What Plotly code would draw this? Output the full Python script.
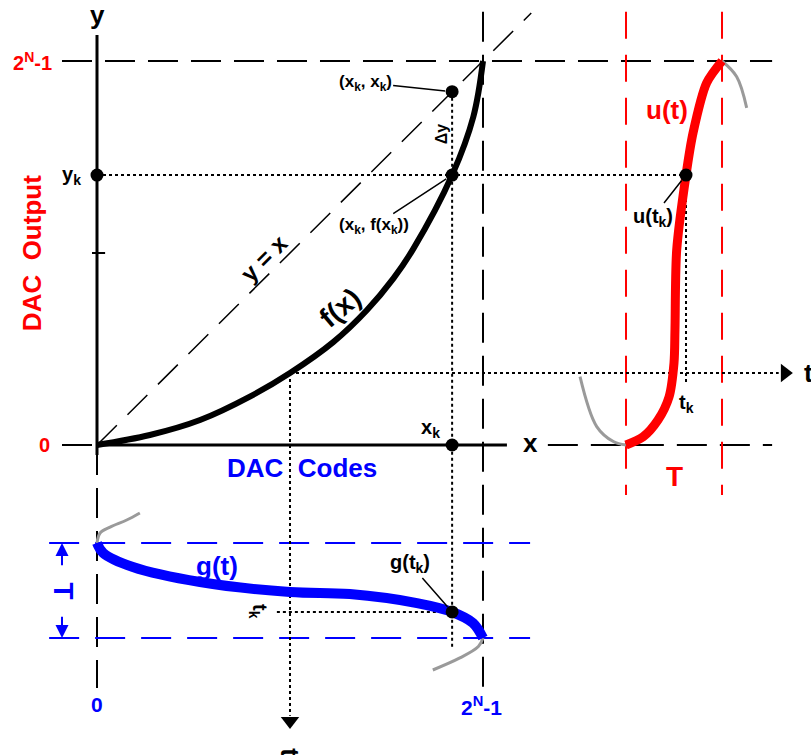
import plotly.graph_objects as go

# All quantities are normalized: DAC code and DAC output run 0 .. 1 (0 .. 2^N-1),
# time runs 0 .. 1 over one period T.

# transfer characteristic f(x)
f_code = [0.0, 0.137, 0.267, 0.396, 0.5, 0.612, 0.699, 0.768, 0.819, 0.92, 0.975, 1.0]
f_out = [0.0, 0.026, 0.065, 0.126, 0.1875, 0.268, 0.351, 0.434, 0.51, 0.703, 0.855, 1.0]

# identity reference y = x
diag = [0.0, 1.125]

# sample k
x_k = 0.92
y_k = 0.703            # f(x_k)
x_mid = 0.5            # code where the time axis of u(t) leaves f(x)
y_mid = 0.1875         # f(x_mid)

# u(t): output over one period, plus its continuation outside [0, T]
u_t = [0.0, 0.177, 0.333, 0.448, 0.5, 0.51, 0.528, 0.625, 0.698, 0.84, 1.0]
u_out = [0.0, 0.021, 0.065, 0.125, 0.214, 0.30, 0.508, 0.703, 0.8125, 0.943, 1.0]
u_pre_t = [-0.479, -0.305, -0.132, 0.0]
u_pre_out = [0.178, 0.048, 0.009, 0.0]
u_post_t = [1.0, 1.153, 1.257]
u_post_out = [1.0, 0.959, 0.878]
t_k_u = 0.625

# g(t): code over one period, plus its continuation outside [0, T]
g_t = [0.0, 0.105, 0.253, 0.411, 0.516, 0.537, 0.632, 0.726, 0.842, 1.0]
g_code = [0.0, 0.016, 0.093, 0.267, 0.5, 0.655, 0.829, 0.92, 0.974, 1.0]
g_pre_t = [0.0, -0.105, -0.168, -0.242, -0.316]
g_pre_code = [0.0, 0.008, 0.034, 0.077, 0.111]
g_post_t = [1.0, 1.09, 1.21, 1.337]
g_post_code = [1.0, 0.988, 0.940, 0.870]
t_k_g = 0.726

# ---------------------------------------------------------------- layout frame
W, H = 811, 755
X_RANGE = [-97 / 386, 714 / 386]
Y_RANGE = [-310 / 384, 445 / 384]

# time frames of the two side plots inside the shared axes
U_T0, U_T1 = 1.3705, 1.6192        # u(t): t = 0 .. T along x
G_T0, G_T1 = -0.2552, -0.5026      # g(t): t = 0 .. T downward along y


def u_x(t):
    return U_T0 + t * (U_T1 - U_T0)


def g_y(t):
    return G_T0 + t * (G_T1 - G_T0)


# extents of guide lines
X_LEFT, X_RIGHT = -0.0907, 1.749
Y_TOP, Y_BOTTOM = 1.128, -0.633

RED = "#ff0000"
BLUE = "#0000ff"
GRAY = "#9a9a9a"
FONT = "Liberation Sans, Arial, sans-serif"

DASH_K = "30px,13px"
DASH_DIAG = "28px,15px"
DASH_R = "27px,16px"
DASH_B = "30px,16px"
DOT = "3px,3px"

fig = go.Figure()


def line(xs, ys, color="black", width=2, dash=None, shape="linear", smoothing=1.0):
    fig.add_trace(go.Scatter(
        x=list(xs), y=list(ys), mode="lines",
        line=dict(color=color, width=width, dash=dash, shape=shape,
                  smoothing=smoothing if shape == "spline" else None),
        hoverinfo="skip", showlegend=False))


# dashed guides
line([X_LEFT, X_RIGHT], [1, 1], dash=DASH_K)
line([X_LEFT, 0], [0, 0], dash=DASH_K)
line([1.168, X_RIGHT], [0, 0], dash=DASH_K)
line([1, 1], [Y_TOP, Y_BOTTOM], dash=DASH_K)
line([0, 0], [0, Y_BOTTOM], dash=DASH_K)
line(diag, diag, width=1.5, dash=DASH_DIAG)

# period markers of u(t) and g(t)
for t in (0, 1):
    line([u_x(t)] * 2, [Y_TOP, -0.130], color=RED, width=2, dash=DASH_R)
    line([-0.124, 1.122], [g_y(t)] * 2, color=BLUE, width=2, dash=DASH_B)

# dotted projections
line([0, u_x(t_k_u)], [y_k, y_k], width=2, dash=DOT)
line([x_k, x_k], [x_k, -0.526], width=2, dash=DOT)
line([x_mid, 1.766], [y_mid, y_mid], width=2, dash=DOT)
line([x_mid, x_mid], [y_mid, -0.705], width=2, dash=DOT)
line([u_x(t_k_u)] * 2, [y_k, 0.156], width=2, dash=DOT)
line([0.466, x_k], [g_y(t_k_g)] * 2, width=2, dash=DOT)

# arrow heads of the two time axes
fig.add_trace(go.Scatter(
    x=[1.782, x_mid], y=[y_mid, -0.719], mode="markers",
    marker=dict(symbol=["triangle-right", "triangle-down"], size=16, color="black"),
    hoverinfo="skip", showlegend=False))

# solid axes with mid-scale tick
line([0, 0], [-0.026, 1.068], width=3)
line([-0.013, 0.021], [0.5, 0.5], width=2)
line([0, 1.062], [0, 0], width=3)

# continuation of the periodic signals
line([u_x(t) for t in u_pre_t], u_pre_out, color=GRAY, width=3, shape="spline")
line([u_x(t) for t in u_post_t], u_post_out, color=GRAY, width=3, shape="spline")
line(g_pre_code, [g_y(t) for t in g_pre_t], color=GRAY, width=3, shape="spline")
line(g_post_code, [g_y(t) for t in g_post_t], color=GRAY, width=3, shape="spline")

# main curves
line(f_code, f_out, width=6, shape="spline", smoothing=1.0)
line([u_x(t) for t in u_t], u_out, color=RED, width=9, shape="spline", smoothing=0.8)
line(g_code, [g_y(t) for t in g_t], color=BLUE, width=10, shape="spline", smoothing=1.0)

# sample points
fig.add_trace(go.Scatter(
    x=[0, x_k, x_k, x_k, u_x(t_k_u), x_k],
    y=[y_k, x_k, y_k, 0, y_k, g_y(t_k_g)],
    mode="markers", marker=dict(size=13, color="black"),
    hoverinfo="skip", showlegend=False))

# ---------------------------------------------------------------- labels
ann = []


def label(x, y, text, size=20, color="black", angle=0):
    ann.append(dict(x=x, y=y, text=f"<b>{text}</b>", showarrow=False, textangle=angle,
                    font=dict(family=FONT, size=size, color=color)))


def callout(x, y, text, ax, ay, size=17):
    ann.append(dict(x=x, y=y, text=f"<b>{text}</b>", showarrow=True, arrowhead=0,
                    arrowwidth=1.5, arrowcolor="black", standoff=7, ax=ax, ay=ay,
                    font=dict(family=FONT, size=size, color="black")))


label(0, 1.12, "y", size=26)
label(1.122, 0.005, "x", size=26)
label(-0.166, 1.0, "2<sup>N</sup>-1", color=RED)
label(-0.065, y_k, "y<sub>k</sub>")
label(-0.135, 0, "0", color=RED)
label(-0.168, 0.5, "DAC  Output", size=26, color=RED, angle=-90)
label(0.532, -0.06, "DAC  Codes", size=26, color=BLUE)
label(0.863, 0.044, "x<sub>k</sub>")
label(0.891, (x_k + y_k) / 2, "Δy", size=16, angle=-90)
label(0.435, 0.487, "y = x", size=24, angle=-45)
label(0.63, 0.359, "f(x)", size=28, angle=-40)
callout(x_k, x_k, "(x<sub>k</sub>, x<sub>k</sub>)", -87, -9)
callout(x_k, y_k, "(x<sub>k</sub>, f(x<sub>k</sub>))", -78, 51)

label(u_x(0.427), 0.872, "u(t)", size=26, color=RED)
callout(u_x(t_k_u), y_k, "u(t<sub>k</sub>)", -33, 42, size=20)
label(u_x(t_k_u), 0.109, "t<sub>k</sub>")
label(u_x(0.5), -0.083, "T", size=28, color=RED)
label(1.842, y_mid, "t", size=26)

label(0.312, g_y(0.242), "g(t)", size=26, color=BLUE)
callout(x_k, g_y(t_k_g), "g(t<sub>k</sub>)", -42, -48, size=20)
label(0.417, g_y(t_k_g), "t<sub>k</sub>", angle=90)
label(-0.088, g_y(0.5), "T", size=28, color=BLUE, angle=90)
label(0, -0.677, "0", size=21, color=BLUE)
label(0.995, -0.68, "2<sup>N</sup>-1", size=21, color=BLUE)
label(x_mid, -0.8, "t", size=26, angle=90)

# period arrows beside g(t)
for t_from, t_to in ((0.25, 0.0), (0.76, 1.0)):
    ann.append(dict(x=X_LEFT, y=g_y(t_to), ax=X_LEFT, ay=g_y(t_from), axref="x", ayref="y",
                    showarrow=True, arrowhead=2, arrowsize=1.3, arrowwidth=2,
                    arrowcolor=BLUE, text=""))

fig.update_layout(
    width=W, height=H, margin=dict(l=0, r=0, t=0, b=0),
    paper_bgcolor="white", plot_bgcolor="white", showlegend=False,
    xaxis=dict(range=X_RANGE, visible=False, fixedrange=True),
    yaxis=dict(range=Y_RANGE, visible=False, fixedrange=True),
    annotations=ann,
)

fig.write_html("out.html")
